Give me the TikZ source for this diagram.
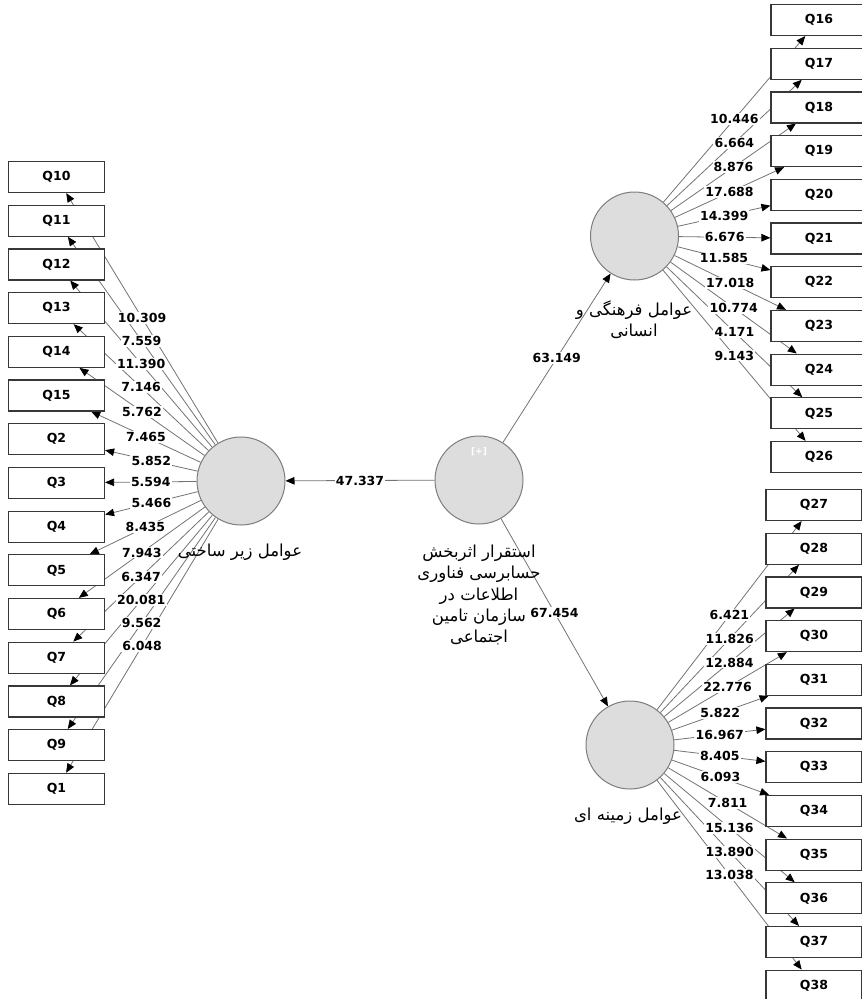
\documentclass[tikz,border=0pt]{standalone}
\usepackage{fontspec}
\setmainfont{DejaVu Sans}
\newfontfamily\fa[Script=Arabic]{DejaVu Sans}
\TeXXeTstate=1
\usetikzlibrary{positioning,arrows.meta,backgrounds}
\definecolor{pathgray}{RGB}{115,115,115}
\definecolor{lvfill}{RGB}{221,221,221}
\definecolor{lvdraw}{RGB}{125,125,125}
\definecolor{boxdraw}{RGB}{55,55,55}

\begin{document}
\begin{tikzpicture}[x=1pt, y=-1pt,
    >={Triangle[length=9pt,width=7.5pt,color=black]},
    ind/.style={draw=boxdraw, line width=1.2pt, fill=white, minimum width=96pt, minimum height=31pt,
                inner sep=0pt, font=\bfseries\fontsize{12.5}{14}\selectfont},
    lv/.style={circle, draw=lvdraw, line width=1pt, fill=lvfill, minimum size=88pt, inner sep=0pt},
    load/.style={->, draw=pathgray, line width=0.8pt},
    val/.style={fill=white, inner sep=1.2pt, font=\bfseries\fontsize{12.5}{14}\selectfont},
    lvname/.style={font=\fa\fontsize{16.5}{21.2}\selectfont, align=center, inner sep=0pt},
    node distance=11.5pt,
]
  \useasboundingbox (0,0) rectangle (862,999);

  % ---------------- latent variables ----------------
  \node[lv] (core) at (479,480) {};
  \node[font=\bfseries\fontsize{9}{10}\selectfont, text=white, inner sep=0pt] (expand) at (479,452) {[+]};
  \node[lv] (infra) at (241,481) {};
  \node[lv] (culture) at (634.5,236) {};
  \node[lv] (context) at (630,745) {};

  \node[lvname] (coreT) at (479,595)
       {\beginR استقرار اثربخش\endR\\\beginR حسابرسی فناوری\endR\\\beginR اطلاعات در\endR\\\beginR سازمان تامین\endR\\\beginR اجتماعی\endR};
  \node[lvname] (infraT) at (240,552) {\beginR عوامل زیر ساختی\endR};
  \node[lvname] (cultureT) at (634,320) {\beginR عوامل فرهنگی و\endR\\\beginR انسانی\endR};
  \node[lvname] (contextT) at (628,816) {\beginR عوامل زمینه ای\endR};

  % ---------------- indicators, left ----------------
  \node[ind] (q10) at (56.5,177) {Q10};
  \node[ind, below=of q10] (q11) {Q11};
  \node[ind, below=of q11] (q12) {Q12};
  \node[ind, below=of q12] (q13) {Q13};
  \node[ind, below=of q13] (q14) {Q14};
  \node[ind, below=of q14] (q15) {Q15};
  \node[ind, below=of q15] (q2) {Q2};
  \node[ind, below=of q2] (q3) {Q3};
  \node[ind, below=of q3] (q4) {Q4};
  \node[ind, below=of q4] (q5) {Q5};
  \node[ind, below=of q5] (q6) {Q6};
  \node[ind, below=of q6] (q7) {Q7};
  \node[ind, below=of q7] (q8) {Q8};
  \node[ind, below=of q8] (q9) {Q9};
  \node[ind, below=of q9] (q1) {Q1};

  % ---------------- indicators, upper right ----------------
  \node[ind] (q16) at (819,20) {Q16};
  \node[ind, below=of q16] (q17) {Q17};
  \node[ind, below=of q17] (q18) {Q18};
  \node[ind, below=of q18] (q19) {Q19};
  \node[ind, below=of q19] (q20) {Q20};
  \node[ind, below=of q20] (q21) {Q21};
  \node[ind, below=of q21] (q22) {Q22};
  \node[ind, below=of q22] (q23) {Q23};
  \node[ind, below=of q23] (q24) {Q24};
  \node[ind, below=of q24] (q25) {Q25};
  \node[ind, below=of q25] (q26) {Q26};

  % ---------------- indicators, lower right ----------------
  \node[ind] (q27) at (814,505) {Q27};
  \node[ind, below=of q27] (q28) {Q28};
  \node[ind, below=of q28] (q29) {Q29};
  \node[ind, below=of q29] (q30) {Q30};
  \node[ind, below=of q30] (q31) {Q31};
  \node[ind, below=of q31] (q32) {Q32};
  \node[ind, below=of q32] (q33) {Q33};
  \node[ind, below=of q33] (q34) {Q34};
  \node[ind, below=of q34] (q35) {Q35};
  \node[ind, below=of q35] (q36) {Q36};
  \node[ind, below=of q36] (q37) {Q37};
  \node[ind, below=of q37] (q38) {Q38};

  % ---------------- paths (behind the boxes) ----------------
  \begin{scope}[on background layer]
    % inner model
    \draw[load] (core) -- (infra) coordinate[pos=0.5] (s1);
    \draw[load] (core) -- (culture) coordinate[pos=0.5] (s2);
    \draw[load] (core) -- (context) coordinate[pos=0.5] (s3);
    % outer model, left
    \draw[load] (infra) -- (q10) coordinate[pos=0.5] (l10);
    \draw[load] (infra) -- (q11) coordinate[pos=0.5] (l11);
    \draw[load] (infra) -- (q12) coordinate[pos=0.5] (l12);
    \draw[load] (infra) -- (q13) coordinate[pos=0.5] (l13);
    \draw[load] (infra) -- (q14) coordinate[pos=0.5] (l14);
    \draw[load] (infra) -- (q15) coordinate[pos=0.5] (l15);
    \draw[load] (infra) -- (q2) coordinate[pos=0.5] (l2);
    \draw[load] (infra) -- (q3) coordinate[pos=0.5] (l3);
    \draw[load] (infra) -- (q4) coordinate[pos=0.5] (l4);
    \draw[load] (infra) -- (q5) coordinate[pos=0.5] (l5);
    \draw[load] (infra) -- (q6) coordinate[pos=0.5] (l6);
    \draw[load] (infra) -- (q7) coordinate[pos=0.5] (l7);
    \draw[load] (infra) -- (q8) coordinate[pos=0.5] (l8);
    \draw[load] (infra) -- (q9) coordinate[pos=0.5] (l9);
    \draw[load] (infra) -- (q1) coordinate[pos=0.5] (l1);
    % outer model, upper right
    \draw[load] (culture) -- (q16) coordinate[pos=0.5] (l16);
    \draw[load] (culture) -- (q17) coordinate[pos=0.5] (l17);
    \draw[load] (culture) -- (q18) coordinate[pos=0.5] (l18);
    \draw[load] (culture) -- (q19) coordinate[pos=0.5] (l19);
    \draw[load] (culture) -- (q20) coordinate[pos=0.5] (l20);
    \draw[load] (culture) -- (q21) coordinate[pos=0.5] (l21);
    \draw[load] (culture) -- (q22) coordinate[pos=0.5] (l22);
    \draw[load] (culture) -- (q23) coordinate[pos=0.5] (l23);
    \draw[load] (culture) -- (q24) coordinate[pos=0.5] (l24);
    \draw[load] (culture) -- (q25) coordinate[pos=0.5] (l25);
    \draw[load] (culture) -- (q26) coordinate[pos=0.5] (l26);
    % outer model, lower right
    \draw[load] (context) -- (q27) coordinate[pos=0.5] (l27);
    \draw[load] (context) -- (q28) coordinate[pos=0.5] (l28);
    \draw[load] (context) -- (q29) coordinate[pos=0.5] (l29);
    \draw[load] (context) -- (q30) coordinate[pos=0.5] (l30);
    \draw[load] (context) -- (q31) coordinate[pos=0.5] (l31);
    \draw[load] (context) -- (q32) coordinate[pos=0.5] (l32);
    \draw[load] (context) -- (q33) coordinate[pos=0.5] (l33);
    \draw[load] (context) -- (q34) coordinate[pos=0.5] (l34);
    \draw[load] (context) -- (q35) coordinate[pos=0.5] (l35);
    \draw[load] (context) -- (q36) coordinate[pos=0.5] (l36);
    \draw[load] (context) -- (q37) coordinate[pos=0.5] (l37);
    \draw[load] (context) -- (q38) coordinate[pos=0.5] (l38);
  \end{scope}

  % ---------------- t values ----------------
  \node[val] at (s1) {47.337};
  \node[val] at (s2) {63.149};
  \node[val] at (s3) {67.454};

  \node[val] at (l10) {10.309};
  \node[val] at (l11) {7.559};
  \node[val] at (l12) {11.390};
  \node[val] at (l13) {7.146};
  \node[val] at (l14) {5.762};
  \node[val] at (l15) {7.465};
  \node[val] at (l2) {5.852};
  \node[val] at (l3) {5.594};
  \node[val] at (l4) {5.466};
  \node[val] at (l5) {8.435};
  \node[val] at (l6) {7.943};
  \node[val] at (l7) {6.347};
  \node[val] at (l8) {20.081};
  \node[val] at (l9) {9.562};
  \node[val] at (l1) {6.048};

  \node[val] at (l16) {10.446};
  \node[val] at (l17) {6.664};
  \node[val] at (l18) {8.876};
  \node[val] at (l19) {17.688};
  \node[val] at (l20) {14.399};
  \node[val] at (l21) {6.676};
  \node[val] at (l22) {11.585};
  \node[val] at (l23) {17.018};
  \node[val] at (l24) {10.774};
  \node[val] at (l25) {4.171};
  \node[val] at (l26) {9.143};

  \node[val] at (l27) {6.421};
  \node[val] at (l28) {11.826};
  \node[val] at (l29) {12.884};
  \node[val] at (l30) {22.776};
  \node[val] at (l31) {5.822};
  \node[val] at (l32) {16.967};
  \node[val] at (l33) {8.405};
  \node[val] at (l34) {6.093};
  \node[val] at (l35) {7.811};
  \node[val] at (l36) {15.136};
  \node[val] at (l37) {13.890};
  \node[val] at (l38) {13.038};
\end{tikzpicture}
\end{document}
